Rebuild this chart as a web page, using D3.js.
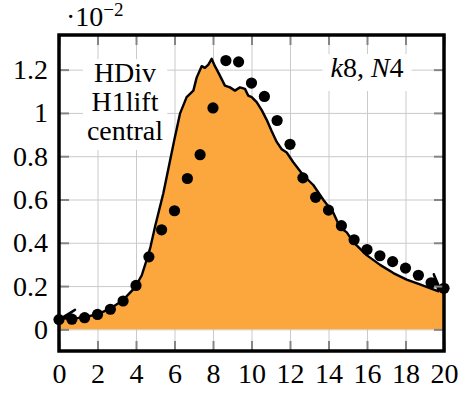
<!DOCTYPE html>
<html>
<head>
<meta charset="utf-8">
<script src="https://cdn.jsdelivr.net/npm/d3@7"></script>
<style>
  body { margin: 0; background: #fff; }
  svg text { font-family: "Liberation Serif", "DejaVu Serif", serif !important; }
</style>
</head>
<body>
<svg class="chart"></svg>
<script>
// values (y in units of 1e-2)
var curveX = [0, 0.83, 0.2, 1.0, 1.5, 2.0, 2.65, 3.3, 3.95, 4.3, 4.55, 4.75, 5.0, 5.42, 5.77, 6.0,
  6.29, 6.63, 6.98, 7.15, 7.41, 7.58, 7.76, 7.93, 8.1, 8.28, 8.45, 8.62, 8.88, 9.14, 9.4, 9.66,
  9.83, 10.01, 10.27, 10.53, 10.79, 11.05, 11.31, 11.57, 11.83, 12.17, 12.69, 13.21, 13.73, 14.25,
  14.6, 14.95, 15.29, 15.98, 16.68, 17.37, 18.06, 18.75, 19.44, 19.72, 19.47, 19.78, 20];
var curveY = [0.045, 0.09, 0.05, 0.053, 0.06, 0.07, 0.095, 0.133, 0.194, 0.25, 0.32, 0.38, 0.479, 0.629, 0.78, 0.88,
  0.998, 1.073, 1.103, 1.163, 1.216, 1.208, 1.223, 1.25, 1.216, 1.186, 1.156, 1.126, 1.118, 1.103, 1.118, 1.111,
  1.08, 1.073, 1.05, 1.013, 0.968, 0.915, 0.866, 0.832, 0.817, 0.772, 0.712, 0.667, 0.599, 0.539,
  0.471, 0.448, 0.403, 0.343, 0.298, 0.26, 0.23, 0.208, 0.185, 0.176, 0.255, 0.19, 0.165];

var dotX = [0, 0.67, 1.33, 2, 2.67, 3.33, 4, 4.67, 5.33, 6, 6.67, 7.33, 8, 8.67, 9.33, 10,
  10.67, 11.33, 12, 12.67, 13.33, 14, 14.67, 15.33, 16, 16.67, 17.33, 18, 18.67, 19.33, 20];
var dotY = [0.045, 0.047, 0.054, 0.069, 0.093, 0.131, 0.203, 0.335, 0.46, 0.548, 0.697, 0.807, 1.023, 1.242, 1.236, 1.138,
  1.076, 0.965, 0.855, 0.70, 0.61, 0.551, 0.479, 0.414, 0.369, 0.34, 0.313, 0.283, 0.25, 0.215, 0.19];

var xTicks = [0, 2, 4, 6, 8, 10, 12, 14, 16, 18, 20];
var yTicks = [0, 0.2, 0.4, 0.6, 0.8, 1, 1.2];
var labelLines = ["HDiv", "H1lift", "central"];

var curve = curveX.map(function(d, i){ return {x: d, y: curveY[i]}; });
var dots = dotX.map(function(d, i){ return {x: d, y: dotY[i]}; });

var margin = {top: 35, right: 26, bottom: 42, left: 59},
    width = 470 - margin.left - margin.right,
    height = 393 - margin.top - margin.bottom;

var chart = d3.select('.chart').attr("width", 470).attr("height", 400);
var g = chart.append("g").attr("transform", "translate(" + margin.left + "," + margin.top + ")");

var xScale = d3.scaleLinear().domain([0, 20]).range([0, width]);
var yScale = d3.scaleLinear().domain([-0.1, 1.36]).range([height, 0]);

chart.append("defs").append("clipPath").attr("id", "clip")
  .append("rect").attr("width", width).attr("height", height);

// grid
g.append("g")
    .attr("class", "grid")
    .attr("transform", "translate(0," + height + ")")
    .call(d3.axisBottom(xScale).tickValues(xTicks).tickSize(-height).tickFormat(""));
g.append("g")
    .attr("class", "grid")
    .call(d3.axisLeft(yScale).tickValues(yTicks).tickSize(-width).tickFormat(""));
g.selectAll(".grid .domain").remove();
g.selectAll(".grid line").attr("stroke", "#cacaca").attr("stroke-width", 1);

var plot = g.append("g").attr("clip-path", "url(#clip)");

var area = d3.area()
  .x(function(d){ return xScale(d.x); })
  .y0(yScale(0))
  .y1(function(d){ return yScale(d.y); });
var line = d3.line()
  .x(function(d){ return xScale(d.x); })
  .y(function(d){ return yScale(d.y); });

plot.append("path").datum(curve).attr("d", area).attr("fill", "#fca63e");
plot.append("path").datum(curve).attr("d", line)
  .attr("fill", "none").attr("stroke", "#000").attr("stroke-width", 2.4).attr("stroke-linejoin", "round");

g.selectAll(".dot").data(dots).enter().append("circle")
  .attr("class", "dot")
  .attr("cx", function(d){ return xScale(d.x); })
  .attr("cy", function(d){ return yScale(d.y); })
  .attr("r", 5.6)
  .attr("fill", "#000");

// text nodes with white background
var lab = g.append("g");
var labText = lab.append("text").attr("text-anchor", "middle").style("font-size", "28px");
labelLines.forEach(function(s, i){
  labText.append("tspan").attr("x", 66).attr("y", 47 + i * 29).text(s);
});
var bb = labText.node().getBBox();
lab.insert("rect", "text").attr("x", bb.x - 4).attr("y", bb.y + 2).attr("width", bb.width + 8).attr("height", bb.height + 2).attr("fill", "#fff");

var lab2 = g.append("g");
var k = lab2.append("text").attr("x", 308).attr("y", 42).attr("text-anchor", "middle").style("font-size", "28px");
k.append("tspan").style("font-style", "italic").text("k");
k.append("tspan").text("8, ");
k.append("tspan").style("font-style", "italic").text("N");
k.append("tspan").text("4");
var bb2 = k.node().getBBox();
lab2.insert("rect", "text").attr("x", bb2.x - 8).attr("y", bb2.y + 2).attr("width", bb2.width + 16).attr("height", bb2.height + 6).attr("fill", "#fff");

// axes: gray ticks inside, labels outside
g.append("g")
    .attr("class", "axis x")
    .attr("transform", "translate(0," + height + ")")
    .call(d3.axisBottom(xScale).tickValues(xTicks).tickSize(-10).tickPadding(12).tickFormat(d3.format("d")));
g.append("g")
    .attr("class", "axis y")
    .call(d3.axisLeft(yScale).tickValues(yTicks).tickSize(-10).tickPadding(11).tickFormat(function(d){ return d3.format("")(+d.toFixed(1)); }));
g.append("g")
    .attr("class", "axis")
    .call(d3.axisTop(xScale).tickValues(xTicks).tickSize(-10).tickFormat(""));
g.append("g")
    .attr("class", "axis")
    .attr("transform", "translate(" + width + ",0)")
    .call(d3.axisRight(yScale).tickValues(yTicks).tickSize(-10).tickFormat(""));
g.selectAll(".axis .domain").remove();
g.selectAll(".axis line").attr("stroke", "#858585").attr("stroke-width", 2);
g.selectAll(".axis").attr("font-size", 28);
g.selectAll(".axis text").style("font-size", "28px").attr("fill", "#000");

g.append("rect")
  .attr("width", width).attr("height", height)
  .attr("fill", "none").attr("stroke", "#000").attr("stroke-width", 3.5);

// scale factor
var sf = chart.append("text").attr("x", 66).attr("y", 26).style("font-size", "28px");
sf.append("tspan").text("\u00b710");
sf.append("tspan").attr("dy", -10).style("font-size", "19px").text("\u22122");
</script>
</body>
</html>
